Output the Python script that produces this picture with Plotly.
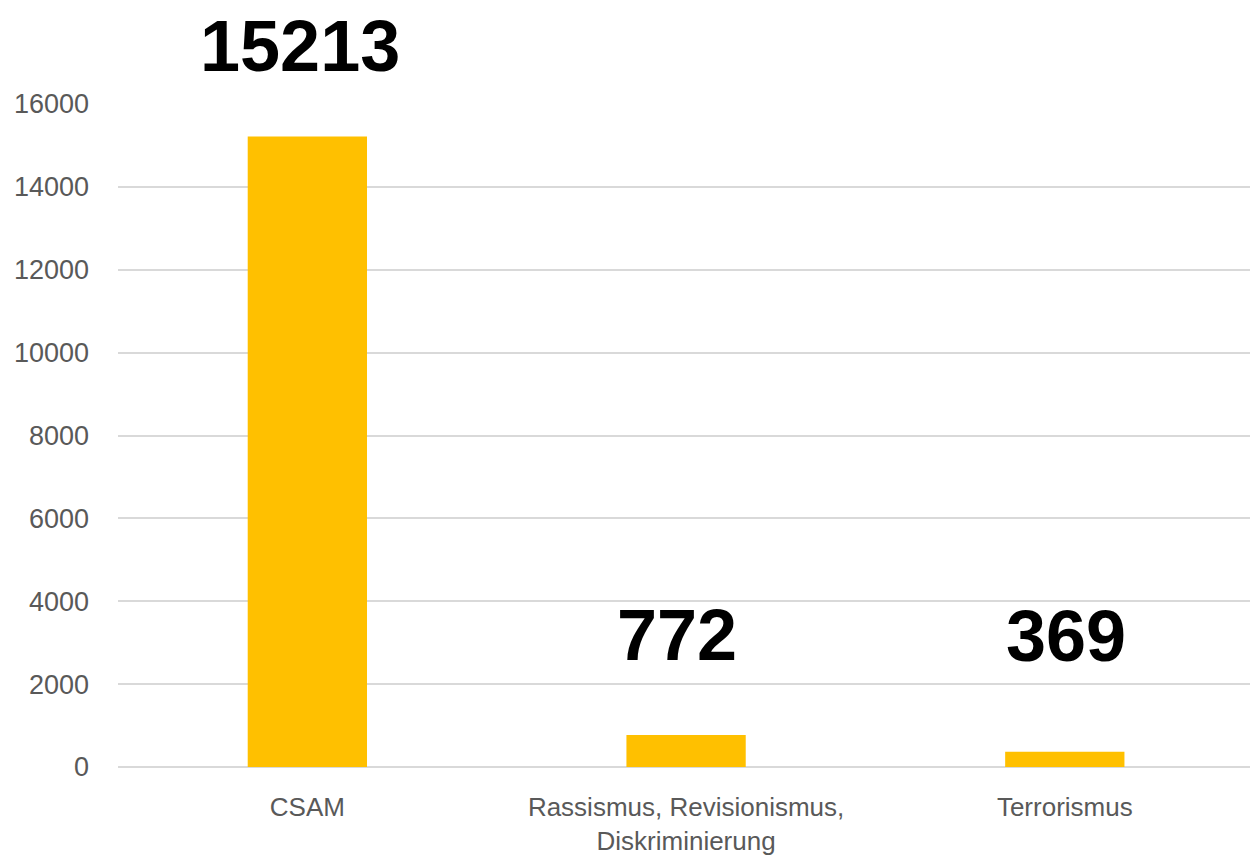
import plotly.graph_objects as go

categories = ["CSAM", "Rassismus, Revisionismus,<br>Diskriminierung", "Terrorismus"]
values = [15213, 772, 369]
y_ticks = [0, 2000, 4000, 6000, 8000, 10000, 12000, 14000, 16000]

# label placement (paper-y positions and x shifts in px)
label_y_paper = [1.0875, 0.199, 0.1975]
label_xshift = [-7, -9, 1]

fig = go.Figure()
fig.add_trace(go.Bar(
    x=categories, y=values, width=0.315,
    marker=dict(color="#FFC000", line=dict(width=0)),
    hoverinfo="x+y",
))

for c, v, ly, xs in zip(categories, values, label_y_paper, label_xshift):
    fig.add_annotation(
        x=c, y=ly, xref="x", yref="paper", text=str(v), showarrow=False,
        xshift=xs, yanchor="middle",
        font=dict(family="Liberation Sans", size=72, color="#000000", weight="bold"),
    )

fig.update_layout(
    width=1250, height=858,
    margin=dict(l=118, r=0, t=104, b=91),
    paper_bgcolor="white", plot_bgcolor="white",
    showlegend=False,
    bargap=0.68,
)
fig.update_xaxes(
    range=[-0.5, 2.489], showgrid=False, showline=False, zeroline=False,
    ticks="", ticklabelstandoff=22, automargin=False,
    tickfont=dict(family="Liberation Sans", size=26, color="#595959"),
)
fig.update_yaxes(
    range=[0, 16000], tickvals=y_ticks, ticktext=[str(t) for t in y_ticks],
    showgrid=True, gridcolor="#d9d9d9", gridwidth=2,
    zeroline=True, zerolinecolor="#d9d9d9", zerolinewidth=2,
    showline=False, ticks="", ticklabelstandoff=28, automargin=False,
    tickfont=dict(family="Liberation Sans", size=27, color="#595959"),
)

fig.write_html(
    "out.html",
    config={"displayModeBar": False},
    post_script="document.body.style.margin='0';document.body.style.overflow='hidden';",
)
